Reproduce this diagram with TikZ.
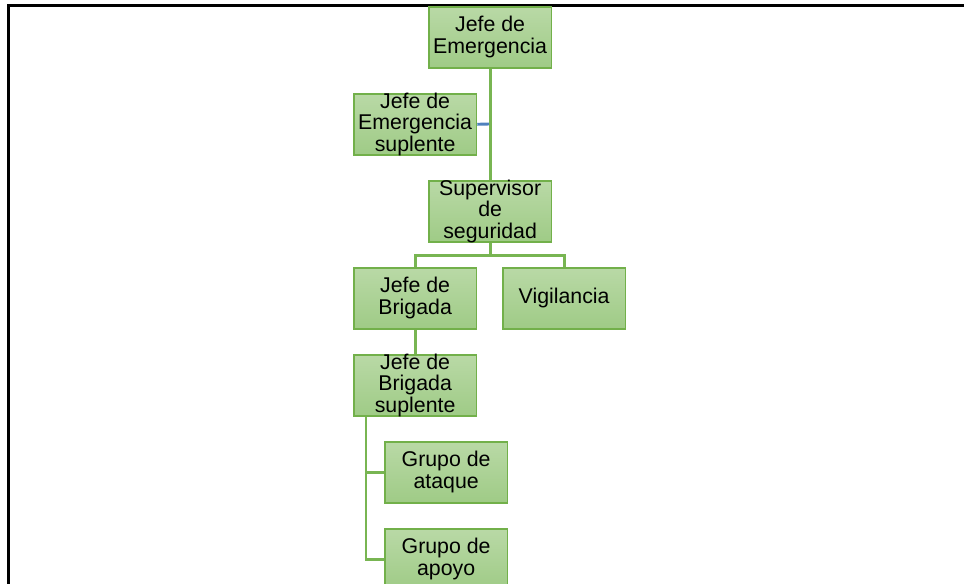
\documentclass[tikz,border=0pt]{standalone}
\usepackage{fontspec}
\setmainfont{Liberation Sans}
\definecolor{boxtop}{HTML}{B9D9A6}
\definecolor{boxbot}{HTML}{9FCB86}
\definecolor{boxline}{HTML}{72B04A}
\definecolor{linkgreen}{HTML}{78B552}
\definecolor{linkblue}{HTML}{4F81BD}
\begin{document}
\begin{tikzpicture}[x=0.75pt,y=-0.75pt,
  orgbox/.style={draw=boxline,line width=1.2pt,top color=boxtop,bottom color=boxbot,
    minimum width=92pt,minimum height=45.75pt,inner sep=0pt,anchor=north west},
  txt/.style={align=center,inner sep=0pt,font=\fontsize{16}{16.3}\selectfont},
  link/.style={draw=linkgreen,line width=2.2pt}]
\useasboundingbox (0,0) rectangle (964,584);
\draw[line width=2.2pt] (8.5,590) -- (8.5,5.5) -- (970,5.5);
\node[orgbox,label={[txt]center:{Jefe de\\Emergencia}}] (je) at (428,6) {};
\node[orgbox,label={[txt]center:{Jefe de\\Emergencia\\suplente}}] (jes) at (353,93) {};
\node[orgbox,label={[txt]center:{Supervisor\\de\\seguridad}}] (sup) at (428,180) {};
\node[orgbox,label={[txt]center:{Jefe de\\Brigada}}] (jb) at (353,267) {};
\node[orgbox,label={[txt]center:{Vigilancia}}] (vig) at (502,267) {};
\node[orgbox,label={[txt]center:{Jefe de\\Brigada\\suplente}}] (jbs) at (353,354) {};
\node[orgbox,label={[txt]center:{Grupo de\\ataque}}] (ga) at (384,441) {};
\node[orgbox,label={[txt]center:{Grupo de\\apoyo}}] (gp) at (384,528) {};
\coordinate (jm) at (489,124);
\draw[link] (je.south) -- (sup.north);
\draw[draw=linkblue,line width=2.2pt] (jes.east) -- (jm);
\draw[link] (sup.south) -- ++(0,13) -| (jb.north);
\draw[link] (sup.south) ++(0,13) -| (vig.north);
\draw[link] (jb.south) -- (jbs.north);
\draw[link] ([xshift=13*0.75pt]jbs.south west) |- (ga.west);
\draw[link] ([xshift=13*0.75pt]jbs.south west) |- (gp.west);
\end{tikzpicture}
\end{document}
